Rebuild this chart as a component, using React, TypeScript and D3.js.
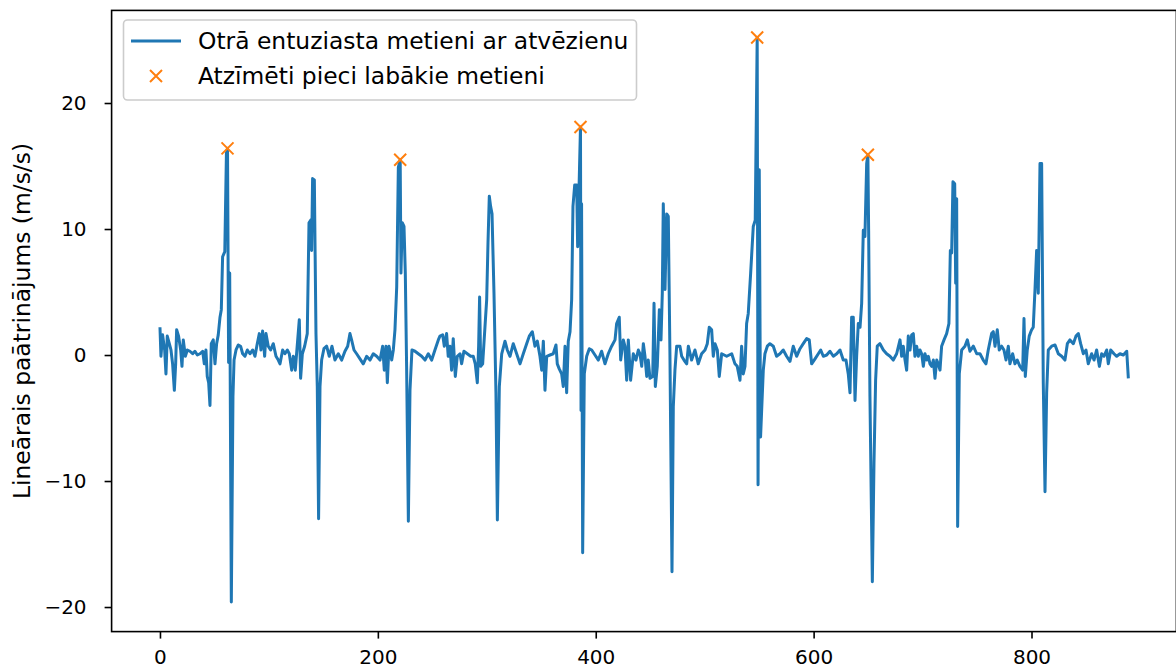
import { useEffect, useRef } from 'react'
import * as d3 from 'd3'

// sample index vs linear acceleration (m/s/s)
const trace: [number, number][] = [
  [0, 2.2], [0.9, -0.1], [2.4, 1.6], [4.3, 0.4], [5.5, -1.5], [6.7, 1.5], [8.6, 0.9], [10.1, 0.4],
  [11.6, -0.7], [13.2, -2.8], [14.4, -0.7], [15.3, 2.0], [17.1, 1.5], [19, 0.4], [20.2, -0.9], [21.4, 1.2],
  [23.3, -0.1], [25.1, 0.4], [27.5, 0.3], [30, 0.1], [32.1, 0.3], [34.3, 0], [36.7, 0.1], [39.2, 0.3],
  [40.7, -0.7], [42.2, 0.4], [43.4, -1.7], [44.7, -2.2], [45.9, -4.0], [47.1, 0.9], [48.9, 1.2], [50.5, -0.7],
  [52, 0.9], [53.5, 1.6], [55.1, 3.0], [56.3, 3.6], [57.5, 7.8], [59.5, 8.2], [61, 16.0], [62, 16.4],
  [63, -0.6], [64, 6.5], [65.5, -19.6], [67, -3.3], [68, -0.4], [69.8, 0.4], [71.9, 0.8], [74, 0.7],
  [75.9, 0.1], [78, -0.1], [80.2, 0.4], [82.6, 0.1], [85.1, 0.4], [87.2, -0.1], [89.3, 0.9], [91.2, 1.7],
  [92.7, 0.4], [94.2, 1.9], [96.1, -0.1], [97.3, 1.7], [99.4, 0.7], [101.6, 0.4], [104, 0.9], [106.5, -0.1],
  [108.6, -0.4], [110.2, -0.7], [112.6, 0.4], [114.7, 0.1], [116.9, 0.4], [118.7, 0.1], [120.9, -1.2], [122.4, -0.1],
  [124.2, -1.2], [125.4, 0.1], [127.9, 2.8], [129.1, -1.85], [130.7, 0.1], [132.8, 0.7], [135.2, 1.7], [136.8, 10.5],
  [138.3, 10.7], [139.2, 8.3], [140.1, 14.0], [141.7, 13.9], [143.2, 1.7], [144.4, -2.5], [145.6, -13.0], [146.9, -2.5],
  [148.4, -0.4], [150.5, 0.5], [153, 0.7], [155.4, -0.1], [157.9, 0.7], [160.6, -0.4], [163.7, 0.1], [166.8, -0.4],
  [169.8, 0.3], [172.3, 0.7], [174.4, 1.7], [175.9, 1.2], [178.1, 0.4], [180.5, 0.1], [183.6, -0.3], [186.6, -0.7],
  [189.7, -0.1], [192.8, -0.4], [195.8, 0.1], [198.9, -0.1], [202, -0.4], [204.4, 0.7], [205.9, -1.2], [207.5, 0.7],
  [208.7, -2.2], [210.2, 0.7], [212.7, -0.4], [214.2, 0.4], [215.7, 2.0], [217.3, 5.4], [218.8, 14.9], [220.5, 15.5],
  [221.2, 6.5], [222.4, 10.5], [224, 10.2], [225.2, 6.5], [226.4, -0.9], [228, -13.2], [229.5, -2.8], [231.3, 0.4],
  [234.1, 0.3], [237.1, 0.1], [240.2, -0.1], [243.3, -0.4], [246.3, 0.1], [249.4, -0.4], [252.4, 0.4], [255.5, 1.2],
  [257, 1.5], [259.5, 1.6], [261, 0.7], [263.1, 1.7], [264.6, -0.1], [266.2, 0.7], [267.7, -1.2], [269.2, 1.3],
  [271.1, -1.7], [272.9, -0.1], [275.4, 0.1], [276.9, -0.7], [279, 0.3], [282.1, 0.1], [285.2, -0.1], [287.6, -0.1],
  [289.4, -0.7], [291.3, -2.2], [292.5, 0.7], [293.4, 4.6], [294.4, -0.9], [296.2, -0.7], [298.3, 2.2], [299.9, 4.4],
  [301.1, 8.9], [302.3, 12.6], [303.5, 11.8], [304.8, 11.2], [306.6, 4.9], [308.4, -3.0], [309.7, -13.1], [311.5, -2.5],
  [313.7, 0.1], [316.7, 1.1], [318.8, 0.4], [321.3, -0.1], [324.3, 0.9], [327.4, 0.1], [330.5, -0.7], [333.5, 0.1],
  [336.6, 0.9], [339, 1.5], [341.8, 1.85], [344.2, 0.7], [346.4, 1.1], [348.8, -0.1], [350.4, -1.2], [351.9, 1.1],
  [353.4, -2.8], [355, -0.1], [358, 0], [361, 0.1], [363.5, 0.8], [364.7, -0.7], [366.5, -1.1], [368.7, -1.5],
  [370.2, -2.5], [371.8, 0.7], [373.3, -3.0], [374.8, 1.1], [376.4, 1.85], [377.9, 4.4], [379.1, 11.8], [380.7, 13.5],
  [382.5, 13.5], [383.4, 8.6], [386, 18.1], [386.5, -4.4], [387, 12], [388, -15.7], [389.5, -1.5], [391.7, -0.1],
  [394.1, 0.5], [396.3, 0.4], [399.3, 0], [402.4, -0.4], [405.4, 0.3], [408.5, -0.7], [411.5, 0.1], [414.6, 0.7],
  [417.7, 1.2], [419.2, 2.5], [421.6, 3.0], [422.9, -0.4], [425.3, 1.2], [426.8, 0.7], [428.4, -2.0], [429.9, 1.2],
  [432, -2.0], [434.5, 0.1], [436.9, -0.4], [439.1, 0.4], [440.6, 0.1], [442.2, -0.9], [443.7, 0.9], [445.2, -0.1],
  [446.8, -1.7], [448.2, -0.4], [449.8, -1.85], [452.3, -1.7], [453.5, 4.1], [454.7, -2.5], [456.5, -0.9], [458.4, 3.6],
  [459.9, 1.2], [461.1, 4.9], [462, 12.0], [463.6, 5.2], [465.1, 11.2], [466.6, 11.0], [468.1, 0.1], [470, -17.2],
  [471.2, -4.1], [472.7, -1.2], [474.3, 0.7], [477.3, 0.7], [478.9, -0.1], [481, -0.4], [483.5, -0.7], [485, 0.7],
  [488, -0.4], [491.1, 0.4], [494.1, -0.7], [497.2, 0.1], [500.3, 0.4], [502.4, 0.9], [504.2, 2.2], [506.4, 2.0],
  [507.9, -0.1], [509.5, 0.9], [511.6, 0.4], [513.4, -1.7], [515.6, 0.1], [520.2, -0.1], [524.8, 0.1], [527.8, -0.7],
  [529.9, -0.9], [532.4, -2.0], [533.9, 0.7], [535.4, -1.5], [537, -0.9], [538.5, 2.5], [540, 3.3], [542.2, 6.5],
  [544.6, 10.2], [546.4, 10.7], [548.2, 25.2], [549, -10.3], [550.1, 14.7], [551.3, -6.5], [553.8, -1.2], [555.3, 0.1],
  [557.5, 0.7], [559.9, 0.9], [563, 0.7], [566, -0.1], [569.1, 0.1], [572.1, 0.4], [575.2, -0.1], [578.3, -0.5],
  [581.3, 0.7], [584.4, -0.1], [587.5, 0.5], [590.5, 0.9], [593.6, 1.3], [596, 1.2], [598.2, -0.7], [601.3, -0.3],
  [604.3, 0.1], [606.5, 0.4], [608.9, -0.1], [612, 0], [615, 0.3], [618.1, -0.1], [621.2, 0.1], [624.2, 0.4],
  [627.2, -0.4], [629.7, -0.4], [631.8, -1.5], [633.4, -3.0], [634.9, 3.0], [636.4, 3.0], [638, -3.6], [639.5, -0.1],
  [641, 2.5], [642.6, 2.2], [644.1, 4.1], [645.6, 9.9], [647.1, 9.4], [648.7, 15.2], [649.8, 15.9], [650.5, 9.9],
  [651.7, -3.3], [653.9, -18.0], [655.4, -8.6], [656.9, -2.0], [658.4, 0.7], [660.9, 0.9], [664, 0.4], [667, 0.1],
  [670.1, -0.1], [673.1, -0.4], [676.2, 0.1], [679.3, 1.2], [680.8, -0.1], [682.3, 0.7], [683.9, -0.4], [685.4, -1.2],
  [686.9, 1.5], [688.5, 0.4], [690, 1.6], [691.5, 1.7], [693, -0.1], [694.6, 0.7], [696.1, -0.1], [697.6, 0.4],
  [699.2, 0.1], [700.7, -0.9], [702.2, 0.1], [703.8, -0.4], [705.3, -0.1], [706.8, -0.7], [708.4, -0.9], [709.9, -0.4],
  [711.4, -1.85], [713, -0.4], [714.4, -0.7], [716, -1.2], [717.5, 0.7], [719.7, 1.2], [722.1, 1.7], [724.2, 2.5],
  [725.5, 8.3], [726.7, 8.1], [727.9, 13.75], [729.5, 13.6], [730.4, 5.7], [731.3, 12.4], [732.2, -13.6], [733.7, -1.5],
  [735.9, 0.4], [738.9, 0.7], [741.1, 1.2], [743.5, 0.3], [746.6, 0.7], [749.7, 0.1], [752.7, 0.1], [755.7, -0.4],
  [758.2, -0.7], [760.3, 0.4], [763.4, 1.7], [764.9, 1.85], [766.5, 0.7], [768.6, 2.0], [770.4, 0.4], [772.6, 0.7],
  [774.7, 0.4], [776.6, -0.4], [778.7, 0.7], [780.2, -0.7], [782.7, 0.1], [784.8, -0.7], [786.9, -0.4], [789.4, -0.9],
  [791.9, -1.2], [793.1, 2.9], [794.3, -1.7], [796.1, 0.4], [797.9, 1.5], [800.1, 2.0], [801.6, 2.2], [803.2, 5.2],
  [804.7, 8.3], [806.2, 4.9], [807.8, 15.2], [809.3, 15.2], [810.8, -2.2], [812.4, -10.85], [813.9, -3.0], [815.4, 0.4],
  [818.5, 0.7], [821.6, 0.8], [824.6, 0.1], [827.7, -0.1], [830.7, -0.4], [832.9, 0.9], [835.3, 1.2], [838.4, 0.9],
  [840.8, 1.5], [843, 1.7], [845.1, 0.9], [847.6, 0.1], [850, 0.4], [852.1, -0.7], [855.2, 0.1], [857.4, -0.4],
  [859.8, 0.4], [862.3, -0.9], [864.4, 0.1], [866.5, -0.1], [869, 0.4], [870.5, -0.7], [872.7, 0.4], [875.7, 0.1],
  [878.2, -0.1], [881.2, 0.1], [884.3, 0], [887.4, 0.3], [888.9, -1.85],
]

// the five best throws (marked with x)
const peakIdx = [62, 220.5, 386, 548.2, 649.8]
const peakVal = [16.4, 15.5, 18.1, 25.2, 15.9]

const xTicks = [0, 200, 400, 600, 800]
const yTicks = [-20, -10, 0, 10, 20]

const lineLabel = 'Otrā entuziasta metieni ar atvēzienu'
const peakLabel = 'Atzīmēti pieci labākie metieni'
const yTitle = 'Lineārais paātrinājums (m/s/s)'

export default function App() {
  const ref = useRef<SVGSVGElement>(null)

  useEffect(() => {
    if (!ref.current) return
    const svg = d3.select(ref.current)
    svg.selectAll('*').remove()

    const left = 111.6
    const right = 1176.4
    const top = 10.4
    const bottom = 631.6

    const x = d3.scaleLinear().domain([-44.4, 933]).range([left, right])
    const y = d3.scaleLinear().domain([-21.95, 27.35]).range([bottom, top])

    const blue = '#1f77b4'
    const orange = '#ff7f0e'

    // line
    const line = d3
      .line<[number, number]>()
      .x((d) => x(d[0]))
      .y((d) => y(d[1]))

    svg
      .append('path')
      .datum(trace)
      .attr('d', line)
      .attr('fill', 'none')
      .attr('stroke', blue)
      .attr('stroke-width', 3)
      .attr('stroke-linejoin', 'round')

    // peak markers
    const cross = (g: any, cx: number, cy: number, s: number) => {
      g.append('path')
        .attr('d', `M${cx - s},${cy - s}L${cx + s},${cy + s}M${cx - s},${cy + s}L${cx + s},${cy - s}`)
        .attr('stroke', orange)
        .attr('stroke-width', 2)
        .attr('fill', 'none')
    }
    const mk = svg.append('g')
    peakIdx.forEach((p, i) => cross(mk, x(p), y(peakVal[i]), 6))

    // axes
    const xAxis = svg
      .append('g')
      .attr('transform', `translate(0,${bottom})`)
      .call(d3.axisBottom(x).tickValues(xTicks).tickSize(7).tickPadding(11).tickSizeOuter(0))
    const yAxis = svg
      .append('g')
      .attr('transform', `translate(${left},0)`)
      .call(d3.axisLeft(y).tickValues(yTicks).tickSize(7).tickPadding(18).tickSizeOuter(0))

    ;[xAxis, yAxis].forEach((a) => {
      a.select('.domain').remove()
      a.selectAll('line').attr('stroke', '#000').attr('stroke-width', 1.6)
      a.selectAll('text')
        .attr('fill', '#000')
        .style('font-size', '20px')
        .style('font-family', 'DejaVu Sans')
    })

    // frame
    svg
      .append('rect')
      .attr('x', left)
      .attr('y', top)
      .attr('width', right - left)
      .attr('height', bottom - top)
      .attr('fill', 'none')
      .attr('stroke', '#000')
      .attr('stroke-width', 1.6)

    // y label
    svg
      .append('text')
      .attr('transform', `translate(30,${(top + bottom) / 2}) rotate(-90)`)
      .attr('text-anchor', 'middle')
      .style('font-size', '23.4px')
      .style('font-family', 'DejaVu Sans')
      .text(yTitle)

    // legend
    const lg = svg.append('g')
    lg.append('rect')
      .attr('x', 123.5)
      .attr('y', 20)
      .attr('width', 513)
      .attr('height', 80)
      .attr('rx', 4)
      .attr('fill', '#fff')
      .attr('fill-opacity', 0.8)
      .attr('stroke', '#cccccc')
      .attr('stroke-width', 1.6)
    lg.append('line')
      .attr('x1', 131)
      .attr('x2', 181)
      .attr('y1', 41)
      .attr('y2', 41)
      .attr('stroke', blue)
      .attr('stroke-width', 3)
    cross(lg, 156, 76, 6)
    lg.selectAll('text.lab')
      .data([lineLabel, peakLabel])
      .enter()
      .append('text')
      .attr('class', 'lab')
      .attr('x', 198)
      .attr('y', (_d: string, i: number) => 41 + i * 35)
      .attr('dy', '0.35em')
      .style('font-size', '23.4px')
      .style('font-family', 'DejaVu Sans')
      .text((d: string) => d)
  }, [])

  return (
    <svg
      ref={ref}
      width={1176}
      height={671}
      style={{ position: 'absolute', left: 0, top: 0, background: '#fff' }}
    />
  )
}
